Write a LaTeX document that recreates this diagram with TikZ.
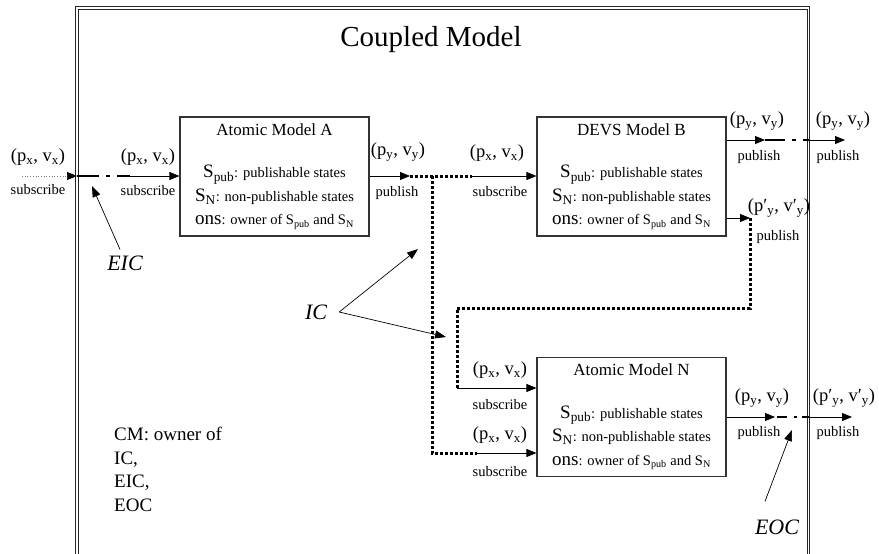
\documentclass[tikz,border=0pt]{standalone}
\usepackage{fontspec}
\setmainfont{Liberation Serif}
\usetikzlibrary{positioning, calc}
\usetikzlibrary{arrows, arrows.meta}
\tikzset{ model/.style={draw=black!80, line width=1.1pt,
            minimum width=189pt, minimum height=119pt, inner sep=0pt,
            align=center, font=\fontsize{14.5}{23.5}\selectfont},
          port/.style={-{Triangle[length=10pt,width=8pt]}, line width=0.8pt},
          icpath/.style={line width=3pt, dash pattern=on 3pt off 2pt},
          eopath/.style={line width=2.4pt, dash pattern=on 22pt off 7pt on 4pt off 7pt},
          pointer/.style={-{Triangle[length=11pt,width=8pt]}, line width=0.7pt},
          sig/.style={inner sep=0pt, font=\fontsize{18.5}{22}\selectfont},
          act/.style={inner sep=0pt, font=\fontsize{14.5}{17}\selectfont},
          note/.style={inner sep=1pt, font=\fontsize{22}{26}\selectfont\itshape}}
\newcommand{\Lg}[1]{{\fontsize{19}{23.5}\selectfont #1}}
\newcommand{\modeltext}[1]{{\fontsize{17}{20}\selectfont #1}\\[19pt]
  \Lg{S\textsubscript{pub}}: publishable states\\
  \Lg{S\textsubscript{N}}: non-publishable states\\
  \Lg{ons}: owner of S\textsubscript{pub} and S\textsubscript{N}}

\begin{document}
\begin{tikzpicture}[x=1pt, y=-1pt]
\useasboundingbox (0,0) rectangle (879,554);

% coupled model frame, open at the bottom
\draw[black!85, line width=1pt, double, double distance=1.3pt]
  (77,8) rectangle (808.5,600);
\node[inner sep=0pt, font=\fontsize{29}{34}\selectfont] (title) at (431,40) {Coupled Model};

\node[model] (A) at (274.5,176.5) {\modeltext{Atomic Model A}};
\node[model] (B) at (631.5,176.5) {\modeltext{DEVS Model B}};
\node[model] (N) at (631.5,417) {\modeltext{Atomic Model N}};

% ports and junctions
\coordinate (inL) at (22,176);
\coordinate (frmL) at (77,176);
\coordinate (eicEnd) at (130,176);
\coordinate (aOut) at (410,176);
\coordinate (bIn) at (472,176);
\coordinate (icTop) at (432,176);
\coordinate (icBot) at (432,453);
\coordinate (nIn2) at (477,453);
\coordinate (bOut2) at (750,218);
\coordinate (icR) at (750,308);
\coordinate (icL) at (457,308);
\coordinate (nIn1) at (457,388);
\coordinate (bOut1) at (765,140);
\coordinate (frmB) at (808.5,140);
\coordinate (bExt) at (845,140);
\coordinate (nOut) at (775,417);
\coordinate (frmN) at (808.5,417);
\coordinate (nExt) at (852,417);

% EIC
\draw[gray, dotted, line width=0.7pt, -{Triangle[length=10pt,width=8pt,black]}] (inL) -- (frmL);
\draw[eopath] (frmL) -- (eicEnd);
\draw[port] (eicEnd) -- (A.west |- eicEnd);

% IC
\draw[port] (A.east |- aOut) -- (aOut);
\draw[icpath] (aOut) -- (bIn);
\draw[port] (bIn) -- (B.west |- bIn);
\draw[icpath] (icTop) -- (icBot) -- (nIn2);
\draw[port] (nIn2) -- (N.west |- nIn2);
\draw[port] (B.east |- bOut2) -- (bOut2);
\draw[icpath] (bOut2) -- (icR) -- (icL) -- (nIn1);
\draw[port] (nIn1) -- (N.west |- nIn1);

% EOC
\draw[port] (B.east |- bOut1) -- (bOut1);
\draw[eopath, dash pattern=on 20pt off 7pt on 4pt off 7pt] (bOut1) -- (frmB);
\draw[port] (frmB) -- (bExt);
\draw[port] (N.east |- nOut) -- (nOut);
\draw[eopath, dash pattern=on 0pt off 2pt on 10pt off 7pt on 3pt off 5pt on 10pt off 0pt] (nOut) -- (frmN);
\draw[port] (frmN) -- (nExt);

% port labels
\foreach \x/\y/\i in {38/157/1, 148/157/2, 497/153/3, 500/370/4, 500/435/5} %inputs
  \node[sig] (px\i) at (\x,\y) {(p\textsubscript{x}, v\textsubscript{x})};
\foreach \x/\y/\i in {38/190/1, 148/191/2, 500/192/3, 500/405/4, 500/472/5}
  \node[act] (sub\i) at (\x,\y) {subscribe};
\foreach \x/\y/\i in {398/152/1, 757/121/2, 843/121/3, 762/398/4} %outputs
  \node[sig] (py\i) at (\x,\y) {(p\textsubscript{y}, v\textsubscript{y})};
\foreach \x/\y/\i in {779/208/1, 844/398/2} %primed outputs
  \node[sig] (pq\i) at (\x,\y) {(p′\textsubscript{y}, v′\textsubscript{y})};
\foreach \x/\y/\i in {397/193/1, 759/157/2, 838/157/3, 778/237/4, 759/433/5, 838/433/6}
  \node[act] (pub\i) at (\x,\y) {publish};

% couplings
\node[note] (eic) at (125,263) {EIC};
\coordinate (eicTip) at (92,186);
\draw[pointer] ([xshift=-5pt,yshift=5pt]eic.north) -- (eicTip);

\node[note] (ic) at (316,312) {IC};
\coordinate (icTip1) at (418,249);
\coordinate (icTip2) at (446,337);
\draw[pointer] ([xshift=11pt]ic.east) -- (icTip1);
\draw[pointer] ([xshift=11pt]ic.east) -- (icTip2);

\node[note] (eoc) at (777,527) {EOC};
\coordinate (eocTip) at (792,430);
\draw[pointer] ([xshift=-12pt,yshift=17pt]eoc.north) -- (eocTip);

\node[anchor=north west, align=left, inner sep=0pt,
  font=\fontsize{19}{23.5}\selectfont] (cm) at (114,427)
  {CM: owner of\\IC,\\EIC,\\EOC};

\end{tikzpicture}
\end{document}
